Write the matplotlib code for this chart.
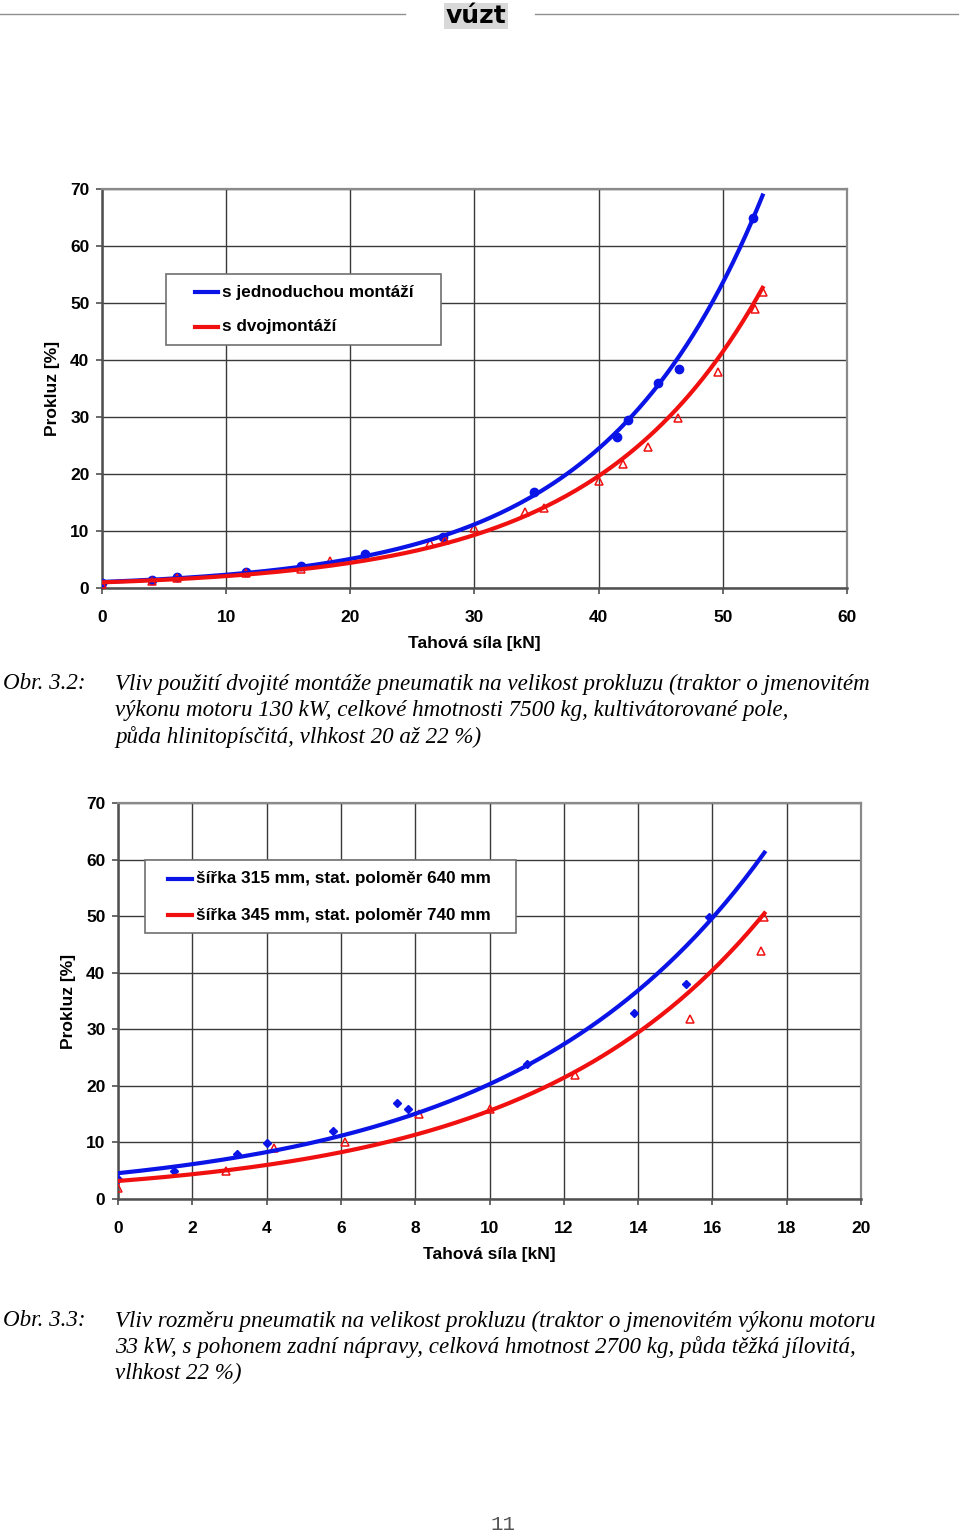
import matplotlib.pyplot as plt
from matplotlib.patches import Rectangle
import numpy as np

# --- data: Obr. 3.2 (single vs. dual tyre mounting) ---
single_x = [0, 4, 6, 11.6, 16, 21.2, 27.5, 34.8, 41.5, 42.4, 44.8, 46.5, 52.4]
single_y = [0.9, 1.4, 1.9, 2.8, 3.9, 6.0, 8.9, 16.8, 26.5, 29.5, 36.0, 38.4, 64.9]
dual_x = [0, 4, 6, 11.6, 16, 18.4, 26.4, 27.6, 30.0, 34.1, 35.6, 40.0, 42.0, 44.0,
          46.4, 49.6, 52.6, 53.2]
dual_y = [0.7, 1.2, 1.8, 2.6, 3.3, 4.7, 7.9, 8.4, 10.5, 13.3, 14.0, 18.8, 21.8, 24.7,
          29.8, 37.9, 48.9, 51.9]

# --- data: Obr. 3.3 (tyre size) ---
narrow_x = [0, 1.5, 3.2, 4.0, 5.8, 7.5, 7.8, 11.0, 13.9, 15.3, 15.9]
narrow_y = [3.5, 5.0, 7.9, 9.9, 12.0, 17.0, 15.9, 23.9, 32.9, 38.0, 49.8]
wide_x = [0, 2.9, 4.2, 6.1, 8.1, 10.0, 12.3, 15.4, 17.3, 17.4]
wide_y = [1.9, 5.0, 9.0, 10.1, 15.0, 15.9, 21.9, 31.8, 43.8, 49.8]

labels_1 = ["s jednoduchou montáží", "s dvojmontáží"]
labels_2 = ["šířka 315 mm, stat. poloměr 640 mm", "šířka 345 mm, stat. poloměr 740 mm"]

caption_1 = ["Vliv použití dvojité montáže pneumatik na velikost prokluzu (traktor o jmenovitém",
             "výkonu motoru 130 kW, celkové hmotnosti 7500 kg, kultivátorované pole,",
             "půda hlinitopísčitá, vlhkost 20 až 22 %)"]
caption_2 = ["Vliv rozměru pneumatik na velikost prokluzu (traktor o jmenovitém výkonu motoru",
             "33 kW, s pohonem zadní nápravy, celková hmotnost 2700 kg, půda těžká jílovitá,",
             "vlhkost 22 %)"]

BLUE = "#0a14e6"
RED = "#f01010"
W, H = 960, 1535

plt.rcParams['font.family'] = ['Liberation Sans', 'DejaVu Sans']
fig = plt.figure(figsize=(W / 100, H / 100), dpi=100)


def px_axes(left, top, right, bottom):
    return fig.add_axes([left / W, 1 - bottom / H, (right - left) / W, (bottom - top) / H])


def exp_trend(x, y, xs):
    # Excel-style exponential trendline (linear fit of ln y)
    b, ln_a = np.polyfit(np.asarray(x), np.log(np.asarray(y)), 1)
    return np.exp(ln_a) * np.exp(b * xs)


def style_axes(ax, xmax, xstep):
    ax.set_xlim(0, xmax)
    ax.set_ylim(0, 70)
    ax.set_xticks(np.arange(0, xmax + 0.1, xstep))
    ax.set_yticks(np.arange(0, 71, 10))
    ax.grid(True, color="#3a3a3a", lw=1.0)
    ax.set_axisbelow(True)
    for s in ["top", "right"]:
        ax.spines[s].set_color("#8a8a8a")
        ax.spines[s].set_linewidth(1.6)
    for s in ["left", "bottom"]:
        ax.spines[s].set_color("#505050")
        ax.spines[s].set_linewidth(1.8)
    ax.tick_params(direction="out", length=4, width=1.2, color="#505050",
                   labelsize=12.5)
    ax.tick_params(axis="x", pad=12)
    ax.tick_params(axis="y", pad=5)
    for lab in ax.get_xticklabels() + ax.get_yticklabels():
        lab.set_fontweight("bold")
    ax.set_xlabel("Tahová síla [kN]", fontsize=12.5, fontweight="bold", labelpad=8)
    ax.set_ylabel("Prokluz [%]", fontsize=12.5, fontweight="bold", labelpad=7)


def manual_legend(ax, box, line_x, rows, text_x, handles, labels):
    # box = (left, top, right, bottom) in pixels of the figure
    inv = ax.transAxes.inverted()

    def to_ax(px, py):
        return inv.transform(fig.transFigure.transform((px / W, 1 - py / H)))

    x0, y0 = to_ax(box[0], box[3])
    x1, y1 = to_ax(box[2], box[1])
    ax.add_patch(Rectangle((x0, y0), x1 - x0, y1 - y0, transform=ax.transAxes,
                           fc="white", ec="#707070", lw=1.2, zorder=5))
    for py, h, lab in zip(rows, handles, labels):
        a = to_ax(line_x[0], py)
        b = to_ax(line_x[1], py)
        ax.plot([a[0], b[0]], [a[1], b[1]], transform=ax.transAxes,
                color=h.get_color(), lw=3, zorder=6, clip_on=False)
        t = to_ax(text_x, py)
        ax.text(t[0], t[1], lab, transform=ax.transAxes, fontsize=12.3,
                fontweight="bold", va="center", ha="left", zorder=6)


# ---------- header ----------
fig.add_artist(plt.Line2D([0, 405 / W], [1 - 14 / H] * 2, color="#909090", lw=1))
fig.add_artist(plt.Line2D([535 / W, 958 / W], [1 - 14 / H] * 2, color="#909090", lw=1))
fig.text(476 / W, 1 - 16 / H, "vúzt", fontsize=18, fontweight="heavy", ha="center",
         va="center", family="DejaVu Sans",
         bbox=dict(boxstyle="square,pad=0.05", fc="#d8d8d8", ec="none"))

# ---------- chart 1 ----------
ax1 = px_axes(102, 189, 847, 588)
style_axes(ax1, 60, 10)
xs1 = np.linspace(0, max(single_x + dual_x), 200)
ax1.plot(single_x, single_y, "o", color=BLUE, ms=6, zorder=3)
ax1.plot(dual_x, dual_y, "^", mfc="none", mec=RED, mew=1.1, ms=5.5, zorder=3)
l1, = ax1.plot(xs1, exp_trend(single_x, single_y, xs1), color=BLUE, lw=3, zorder=4)
l2, = ax1.plot(xs1, exp_trend(dual_x, dual_y, xs1), color=RED, lw=3, zorder=4)
manual_legend(ax1, (166, 274, 441, 345), (195, 218), (292, 327), 222, [l1, l2], labels_1)

# ---------- chart 2 ----------
ax2 = px_axes(118, 803, 861, 1199)
style_axes(ax2, 20, 2)
xs2 = np.linspace(0, max(narrow_x + wide_x), 200)
ax2.plot(narrow_x, narrow_y, "D", color=BLUE, ms=4.5, zorder=3)
ax2.plot(wide_x, wide_y, "^", mfc="none", mec=RED, mew=1.1, ms=5.5, zorder=3)
m1, = ax2.plot(xs2, exp_trend(narrow_x, narrow_y, xs2), color=BLUE, lw=3, zorder=4)
m2, = ax2.plot(xs2, exp_trend(wide_x, wide_y, xs2), color=RED, lw=3, zorder=4)
manual_legend(ax2, (145, 860, 516, 933), (168, 192), (879, 915), 196, [m1, m2], labels_2)

# ---------- captions ----------
cap = dict(fontsize=16.6, style="italic", family="Liberation Serif", va="center")
fig.text(3 / W, 1 - 684 / H, "Obr. 3.2:", **cap)
for i, line in enumerate(caption_1):
    fig.text(115 / W, 1 - (684 + 26.5 * i) / H, line, **cap)
fig.text(3 / W, 1 - 1321 / H, "Obr. 3.3:", **cap)
for i, line in enumerate(caption_2):
    fig.text(115 / W, 1 - (1321 + 26 * i) / H, line, **cap)

fig.text(503 / W, 1 - 1525 / H, "11", fontsize=15, family="Liberation Mono",
         color="#555555", ha="center", va="center")

fig.savefig("out.png", dpi=100)
